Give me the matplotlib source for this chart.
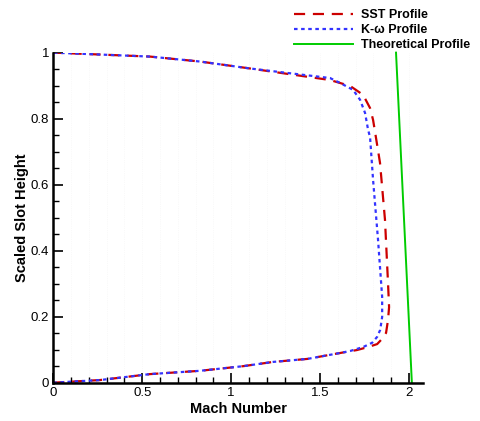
import matplotlib
matplotlib.use("Agg")
import matplotlib.pyplot as plt
from matplotlib.ticker import MultipleLocator

plt.rcParams['font.family'] = ['Liberation Sans', 'DejaVu Sans']

# SST profile (Mach number vs scaled slot height), bottom wall -> top wall
sst_mach = [0, 0.263, 0.544, 0.825, 1.067, 1.237, 1.428, 1.613, 1.708, 1.770,
            1.821, 1.849, 1.871, 1.882, 1.888, 1.882, 1.865, 1.837, 1.809,
            1.798, 1.781, 1.742, 1.669, 1.556, 1.106, 0.825, 0.544, 0]
sst_height = [0, 0.008, 0.026, 0.036, 0.050, 0.063, 0.072, 0.090, 0.099, 0.108,
              0.117, 0.133, 0.151, 0.190, 0.229, 0.302, 0.493, 0.666, 0.760,
              0.796, 0.832, 0.872, 0.899, 0.917, 0.952, 0.973, 0.988, 1.0]

# K-omega profile
kw_mach = [0, 0.263, 0.544, 0.825, 1.067, 1.237, 1.428, 1.613, 1.669, 1.742,
           1.793, 1.821, 1.838, 1.849, 1.849, 1.826, 1.798, 1.781, 1.770,
           1.753, 1.725, 1.686, 1.613, 1.556, 1.106, 0.825, 0.544, 0]
kw_height = [0, 0.008, 0.026, 0.036, 0.050, 0.063, 0.072, 0.090, 0.096, 0.108,
             0.121, 0.139, 0.160, 0.199, 0.260, 0.432, 0.614, 0.744, 0.766,
             0.817, 0.857, 0.887, 0.908, 0.923, 0.952, 0.973, 0.988, 1.0]

# theoretical profile
theory_mach = [2.016, 1.927]
theory_height = [0.0, 1.0]

fig = plt.figure(figsize=(4.8, 4.21), dpi=100)
ax = fig.add_axes([0.111, 0.091, 0.770, 0.784])

ax.plot(sst_mach, sst_height, color='#cc0000', lw=1.6, dashes=(5, 3.5),
        label='SST Profile')
ax.plot(kw_mach, kw_height, color='#3333ff', lw=1.6, dashes=(1.6, 1.6),
        label='K-\u03c9 Profile')
ax.plot(theory_mach, theory_height, color='#00cc00', lw=1.4,
        label='Theoretical Profile', clip_on=False)

ax.set_xlim(0, 2.078)
ax.set_ylim(0, 1)
ax.xaxis.set_major_locator(MultipleLocator(0.5))
ax.xaxis.set_minor_locator(MultipleLocator(0.1))
ax.yaxis.set_major_locator(MultipleLocator(0.2))
ax.yaxis.set_minor_locator(MultipleLocator(0.05))
ax.xaxis.set_major_formatter(plt.FuncFormatter(lambda v, p: f'{v:g}'))
ax.yaxis.set_major_formatter(plt.FuncFormatter(lambda v, p: f'{v:g}'))

# faint dotted guide lines on the minor x ticks
ax.grid(True, which='both', axis='x', color='#f4f4f4', ls=':', lw=0.5)

for s in ['top', 'right']:
    ax.spines[s].set_visible(False)
for s in ['left', 'bottom']:
    ax.spines[s].set_linewidth(1.8)

ax.tick_params(which='major', direction='in', length=7, width=1.2,
               labelsize=9.5, pad=3)
ax.tick_params(which='minor', direction='in', length=4, width=1)

ax.set_xlabel('Mach Number', fontsize=10.5, fontweight='bold', labelpad=2)
ax.set_ylabel('Scaled Slot Height', fontsize=10.5, fontweight='bold', labelpad=1)

fig.legend(loc='upper left', bbox_to_anchor=(0.59, 1.005), frameon=False,
           prop={'weight': 'bold', 'size': 9},
           handlelength=4.7, handletextpad=0.6, labelspacing=0.25)

fig.savefig('out.png', dpi=100)
